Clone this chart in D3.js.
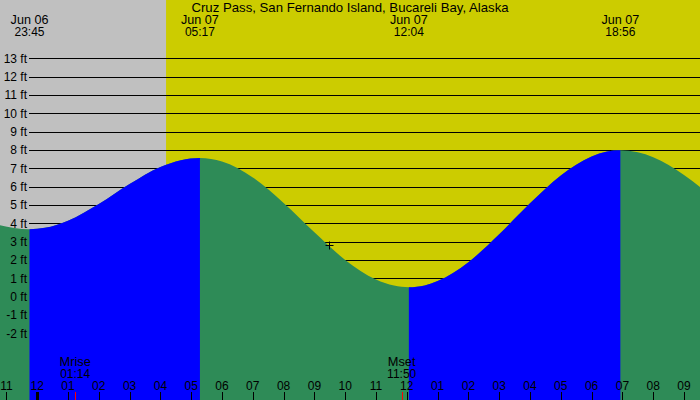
<!DOCTYPE html>
<html>
<head>
<meta charset="utf-8">
<script src="https://cdn.jsdelivr.net/npm/d3@7"></script>
<style>
  html, body { margin: 0; padding: 0; background: #fff; }
  svg { display: block; }
  text { font-family: "Liberation Sans", Arial, sans-serif; font-size: 12px; fill: #000; }
</style>
</head>
<body>
<svg id="chart" width="700" height="400"></svg>
<script>
// ---- data ----
const title = "Cruz Pass, San Fernando Island, Bucareli Bay, Alaska";

// tide curve samples (time, height in ft)
const tideTimes = [
  "2024-06-06 22:47", "2024-06-06 23:15", "2024-06-06 23:45", "2024-06-07 00:15",
  "2024-06-07 01:00", "2024-06-07 02:00", "2024-06-07 03:00", "2024-06-07 04:00",
  "2024-06-07 04:40", "2024-06-07 05:17", "2024-06-07 06:00", "2024-06-07 07:00",
  "2024-06-07 08:00", "2024-06-07 09:00", "2024-06-07 10:00", "2024-06-07 11:00",
  "2024-06-07 11:35", "2024-06-07 12:04", "2024-06-07 12:35", "2024-06-07 13:00",
  "2024-06-07 14:00", "2024-06-07 15:00", "2024-06-07 16:00", "2024-06-07 17:00",
  "2024-06-07 18:00", "2024-06-07 18:30", "2024-06-07 18:56", "2024-06-07 19:30",
  "2024-06-07 20:00", "2024-06-07 20:30", "2024-06-07 21:00", "2024-06-07 21:32"
];
const tideHeights = [
  3.9, 3.74, 3.67, 3.75,
  4.14, 5.05, 6.14, 7.07,
  7.44, 7.56, 7.37, 6.50,
  5.11, 3.51, 2.00, 0.93,
  0.60, 0.51, 0.61, 0.85,
  1.88, 3.40, 5.09, 6.61,
  7.64, 7.91, 7.98, 7.87,
  7.60, 7.18, 6.63, 5.96
];

// high / low events shown at the top
const eventDates  = ["Jun 06", "Jun 07", "Jun 07", "Jun 07"];
const eventClock  = ["23:45", "05:17", "12:04", "18:56"];
const eventTimes  = ["2024-06-06 23:45", "2024-06-07 05:17", "2024-06-07 12:04", "2024-06-07 18:56"];
// rising-tide intervals (low -> high)
const risingStart = ["2024-06-06 23:45", "2024-06-07 12:04"];
const risingEnd   = ["2024-06-07 05:17", "2024-06-07 18:56"];

const sunrise = "2024-06-07 04:11";
const moonLabels = ["Mrise", "Mset"];
const moonClock  = ["01:14", "11:50"];
const moonTimes  = ["2024-06-07 01:14", "2024-06-07 11:50"];

const nowTime = "2024-06-07 09:29";
const nowHeight = 2.8;

const yTicks = [-2, -1, 0, 1, 2, 3, 4, 5, 6, 7, 8, 9, 10, 11, 12, 13];
const hourTicksStart = "2024-06-06 23:00";
const hourTicksEnd   = "2024-06-07 21:00";

// ---- drawing ----
const W = 700, H = 400;
const parse = d3.utcParse("%Y-%m-%d %H:%M");
const svg = d3.select("#chart");

const x = d3.scaleUtc()
  .domain([new Date(Date.UTC(2024, 5, 6, 22, 47, 32)), new Date(Date.UTC(2024, 5, 7, 21, 31, 10))])
  .range([0, W]);
const y = d3.scaleLinear().domain([0, 13]).range([296.6, 58.3]);

const C = { night: "#c0c0c0", day: "#cccc00", fall: "#2e8b57", rise: "#0000ff" };

// background: day and night
svg.append("rect").attr("x", 0).attr("y", 0).attr("width", W).attr("height", H).attr("fill", C.day);
svg.append("rect").attr("x", 0).attr("y", 0)
  .attr("width", x(parse(sunrise))).attr("height", H).attr("fill", C.night);

// grid lines
svg.append("g").selectAll("line").data(yTicks).join("line")
  .attr("x1", 29).attr("x2", W)
  .attr("y1", d => Math.round(y(d)) + 0.5).attr("y2", d => Math.round(y(d)) + 0.5)
  .attr("stroke", "#000").attr("stroke-width", 1);

// tide area
const pts = tideTimes.map((t, i) => ({ t: parse(t), v: tideHeights[i] }));
const area = d3.area().x(d => x(d.t)).y0(H).y1(d => y(d.v)).curve(d3.curveMonotoneX);

svg.append("path").datum(pts).attr("d", area).attr("fill", C.fall);

const defs = svg.append("defs");
risingStart.forEach((s, i) => {
  const x0 = x(parse(s)), x1 = x(parse(risingEnd[i]));
  defs.append("clipPath").attr("id", "rise" + i)
    .append("rect").attr("x", x0).attr("y", 0).attr("width", x1 - x0).attr("height", H);
  svg.append("path").datum(pts).attr("d", area).attr("fill", C.rise)
    .attr("clip-path", `url(#rise${i})`);
});

// y labels
svg.append("g").selectAll("text").data(yTicks).join("text")
  .attr("x", 27).attr("y", d => y(d) + 4.5)
  .attr("text-anchor", "end")
  .text(d => d + " ft");

// title
svg.append("text").attr("x", 350).attr("y", 12).attr("text-anchor", "middle")
  .style("font-size", "13.2px").text(title);

// event labels
const ev = svg.append("g");
eventTimes.forEach((t, i) => {
  const xx = x(parse(t));
  ev.append("text").attr("x", xx).attr("y", 24).attr("text-anchor", "middle")
    .style("font-size", "12.6px").text(eventDates[i]);
  ev.append("text").attr("x", xx).attr("y", 36).attr("text-anchor", "middle").text(eventClock[i]);
});

// hour axis
const hours = d3.utcHour.range(parse(hourTicksStart), d3.timeMillisecond.offset(parse(hourTicksEnd), 1));
const fmtHour = d3.utcFormat("%I");
const ax = svg.append("g");
ax.selectAll("line").data(hours).join("line")
  .attr("x1", d => Math.round(x(d)) + 0.5).attr("x2", d => Math.round(x(d)) + 0.5)
  .attr("y1", 392).attr("y2", H)
  .attr("stroke", "#000")
  .attr("stroke-width", d => d.getUTCHours() === 0 ? 3 : 1);
ax.selectAll("text").data(hours).join("text")
  .attr("x", d => x(d)).attr("y", 390)
  .attr("text-anchor", "middle")
  .text(d => fmtHour(d));

// moon rise / set
moonTimes.forEach((t, i) => {
  const xx = x(parse(t));
  svg.append("line")
    .attr("x1", Math.round(xx) + 0.5).attr("x2", Math.round(xx) + 0.5)
    .attr("y1", 392).attr("y2", H).attr("stroke", "#ff0000").attr("stroke-width", 1);
  svg.append("text").attr("x", xx).attr("y", 366).attr("text-anchor", "middle")
    .style("font-size", "12.8px").text(moonLabels[i]);
  svg.append("text").attr("x", xx).attr("y", 378).attr("text-anchor", "middle").text(moonClock[i]);
});

// current time marker
const nx = Math.round(x(parse(nowTime))) + 0.5, ny = Math.round(y(nowHeight)) + 0.5;
svg.append("path")
  .attr("d", `M${nx - 4},${ny}H${nx + 4}M${nx},${ny - 4}V${ny + 4}`)
  .attr("stroke", "#000").attr("stroke-width", 1).attr("fill", "none");
</script>
</body>
</html>
